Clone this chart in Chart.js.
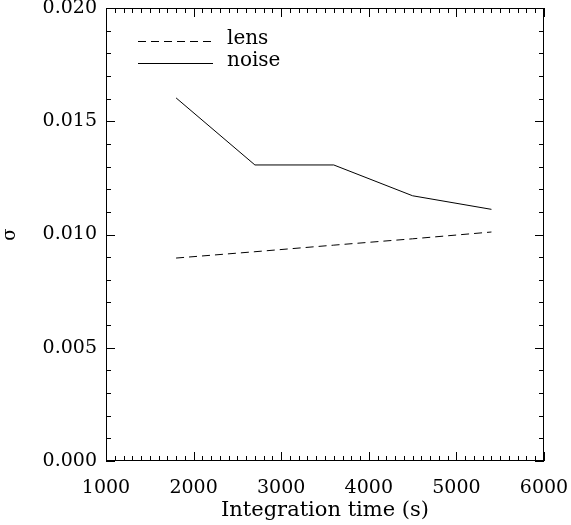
<!DOCTYPE html>
<html>
<head>
<meta charset="utf-8">
<script src="https://cdn.jsdelivr.net/npm/chart.js@4/dist/chart.umd.min.js"></script>
<style>
  html, body { margin: 0; padding: 0; background: #fff; }
  #wrap { width: 571px; height: 525px; }
</style>
</head>
<body>
<div id="wrap"><canvas id="grafico" width="571" height="525"></canvas></div>
<script>
// dados
const tempos = [1800, 2700, 3600, 4500, 5400];
const lens = [0.00896, 0.00924, 0.00953, 0.00981, 0.01011];
const noise = [0.01603, 0.01307, 0.01307, 0.01171, 0.01111];
const rotulos = ["lens", "noise"];

const fonte = "'DejaVu Serif', 'Liberation Serif', serif";

function pontos(ys) {
    return tempos.map((t, i) => ({ x: t, y: ys[i] }));
}

// moldura + ticks internos (estilo IDL)
const moldura = {
    id: "moldura",
    afterDraw(chart) {
        const ctx = chart.ctx;
        const a = chart.chartArea;
        const sx = chart.scales.x, sy = chart.scales.y;
        ctx.save();
        ctx.strokeStyle = "#000";
        ctx.lineWidth = 1;
        ctx.strokeRect(a.left + 0.5, a.top + 0.5, a.right - a.left - 1, a.bottom - a.top - 1);
        ctx.beginPath();
        for (let v = 1000; v <= 6000; v += 100) {
            const px = Math.round(sx.getPixelForValue(v)) + 0.5;
            const len = (v % 1000 === 0) ? 9 : 5;
            ctx.moveTo(px, a.bottom); ctx.lineTo(px, a.bottom - len);
            ctx.moveTo(px, a.top); ctx.lineTo(px, a.top + len);
        }
        for (let k = 0; k <= 20; k++) {
            const v = k * 0.001;
            const py = Math.round(sy.getPixelForValue(v)) + 0.5;
            const len = (k % 5 === 0) ? 9 : 5;
            ctx.moveTo(a.left, py); ctx.lineTo(a.left + len, py);
            ctx.moveTo(a.right, py); ctx.lineTo(a.right - len, py);
        }
        ctx.stroke();

        // legenda dentro do gráfico
        ctx.font = "20px " + fonte;
        ctx.fillStyle = "#000";
        ctx.textBaseline = "middle";
        const linhas = [{ y: 41, dash: [8, 5] }, { y: 63, dash: [] }];
        linhas.forEach((l, i) => {
            ctx.beginPath();
            ctx.setLineDash(l.dash);
            ctx.moveTo(138, l.y + 0.5); ctx.lineTo(213, l.y + 0.5);
            ctx.stroke();
            ctx.setLineDash([]);
            ctx.fillText(rotulos[i], 227, l.y - 2);
        });
        ctx.restore();
    }
};

const ctx = document.getElementById("grafico").getContext("2d");
new Chart(ctx, {
    type: "line",
    data: {
        datasets: [
            {
                label: rotulos[0],
                data: pontos(lens),
                borderColor: "#000",
                borderWidth: 1,
                borderDash: [8, 5],
                pointRadius: 0,
                fill: false
            },
            {
                label: rotulos[1],
                data: pontos(noise),
                borderColor: "#000",
                borderWidth: 1,
                pointRadius: 0,
                fill: false
            }
        ]
    },
    plugins: [moldura],
    options: {
        responsive: false,
        animation: false,
        layout: { padding: { top: 8, right: 27, left: 0, bottom: 0 } },
        plugins: { legend: { display: false }, tooltip: { enabled: false } },
        scales: {
            x: {
                type: "linear",
                min: 1000,
                max: 6000,
                grid: { display: false, drawTicks: false },
                border: { display: false },
                ticks: {
                    stepSize: 1000,
                    color: "#000",
                    padding: 16,
                    font: { family: fonte, size: 19 },
                    callback: v => String(v)
                },
                title: {
                    display: true,
                    text: "Integration time (s)",
                    color: "#000",
                    font: { family: fonte, size: 21 },
                    padding: { top: 0, bottom: 2 }
                },
                afterFit(scale) {
                    scale.height = 64;
                    scale.paddingLeft = 0;
                    scale.paddingRight = 0;
                }
            },
            y: {
                min: 0,
                max: 0.020,
                grid: { display: false, drawTicks: false },
                border: { display: false },
                ticks: {
                    stepSize: 0.005,
                    color: "#000",
                    padding: 9,
                    font: { family: fonte, size: 19 },
                    callback: v => v.toFixed(3)
                },
                title: {
                    display: true,
                    text: "σ",
                    color: "#000",
                    font: { family: fonte, size: 18 },
                    padding: { top: 0, bottom: 0 }
                },
                afterFit(scale) {
                    scale.width = 106;
                    scale.paddingTop = 0;
                    scale.paddingBottom = 0;
                }
            }
        }
    }
});
</script>
</body>
</html>
